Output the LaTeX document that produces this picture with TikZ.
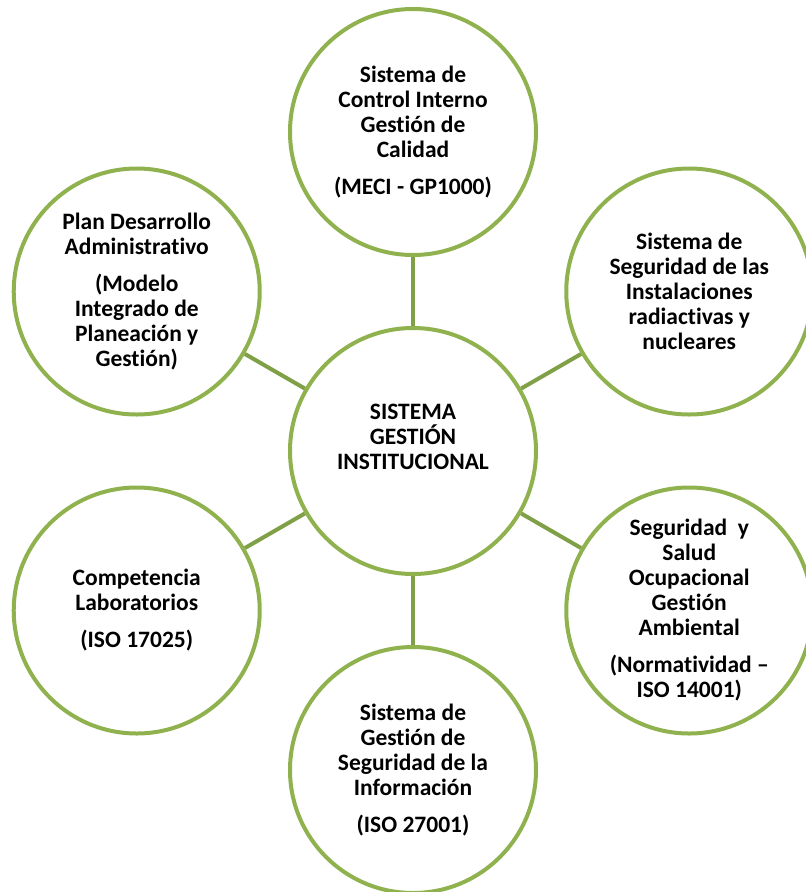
\documentclass[tikz,border=0pt]{standalone}
\usepackage{fontspec}
\setmainfont{Carlito}[Ligatures=NoCommon]
\definecolor{ring}{RGB}{143,178,79}
\definecolor{link}{RGB}{128,160,72}
\tikzset{
  bubble/.style={circle, draw=ring, line width=4pt, minimum size=246pt, inner sep=0pt, fill=white,
    align=center, font=\fontsize{23.5}{25}\selectfont\bfseries},
  ctext/.style={align=center, inner sep=0pt, font=\fontsize{23.5}{25}\selectfont\bfseries},
  conn/.style={draw=link, line width=4pt}
}
\begin{document}
\begin{tikzpicture}[x=1pt,y=-1pt]
\useasboundingbox (0,0) rectangle (806,892);
\coordinate (o) at (413,451);
\node[bubble] (c) at (o) {};
\node[bubble] (t) at ([shift={(90:319pt)}]o) {Sistema de\\Control Interno\\Gestión de\\Calidad\\[12pt](MECI - GP1000)};
\node[bubble] (rt) at ([shift={(30:319pt)}]o) {Sistema de\\Seguridad de las\\Instalaciones\\radiactivas y\\nucleares};
\node[bubble] (rb) at ([shift={(-30:319pt)}]o) {Seguridad\ \ y\\Salud\\Ocupacional\\Gestión\\Ambiental\\[12pt](Normatividad –\\ISO 14001)};
\node[bubble] (b) at ([shift={(-90:319pt)}]o) {Sistema de\\Gestión de\\Seguridad de la\\Información\\[12pt](ISO 27001)};
\node[bubble] (lb) at ([shift={(210:319pt)}]o) {Competencia\\Laboratorios\\[12pt](ISO 17025)};
\node[bubble] (lt) at ([shift={(150:319pt)}]o) {Plan Desarrollo\\Administrativo\\[12pt](Modelo\\Integrado de\\Planeación y\\Gestión)};
\node[ctext] (ct) at ([yshift=14pt]c.center) {SISTEMA\\GESTIÓN\\INSTITUCIONAL};
\foreach \n in {t,rt,rb,b,lb,lt} { \draw[conn] (c) -- (\n); }
\end{tikzpicture}
\end{document}
